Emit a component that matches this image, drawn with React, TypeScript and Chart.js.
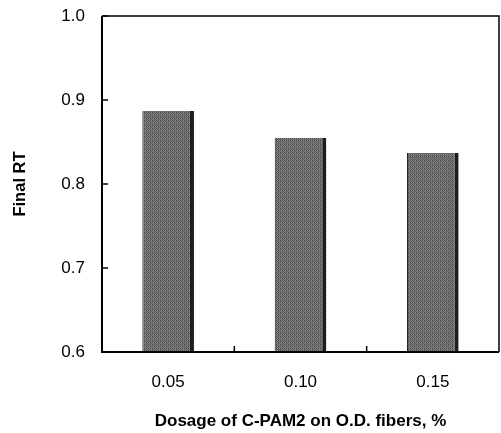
import React, { useEffect, useRef } from "react";
import { Chart, registerables } from "chart.js";

Chart.register(...registerables);

const categories = ["0.05", "0.10", "0.15"];
const finalRT = [0.887, 0.855, 0.837];
const yTicks = [0.6, 0.7, 0.8, 0.9, 1.0];

const FONT = "'Liberation Sans', Arial, sans-serif";

function makePattern(): CanvasPattern | string {
  const c = document.createElement("canvas");
  c.width = 8;
  c.height = 8;
  const g = c.getContext("2d");
  if (!g) return "#8c8c8c";
  const bayer = [
    [0, 32, 8, 40, 2, 34, 10, 42],
    [48, 16, 56, 24, 50, 18, 58, 26],
    [12, 44, 4, 36, 14, 46, 6, 38],
    [60, 28, 52, 20, 62, 30, 54, 22],
    [3, 35, 11, 43, 1, 33, 9, 41],
    [51, 19, 59, 27, 49, 17, 57, 25],
    [15, 47, 7, 39, 13, 45, 5, 37],
    [63, 31, 55, 23, 61, 29, 53, 21],
  ];
  for (let y = 0; y < 8; y++) {
    for (let x = 0; x < 8; x++) {
      const v = bayer[(y * 5 + x) % 8][(x * 3 + y) % 8];
      const shade = Math.round(65 + (v / 63) * 170);
      g.fillStyle = `rgb(${shade},${shade},${shade})`;
      g.fillRect(x, y, 1, 1);
    }
  }
  return g.createPattern(c, "repeat") || "#8c8c8c";
}

const framePlugin = {
  id: "frame",
  afterDatasetsDraw(chart: any) {
    const { ctx, chartArea } = chart;
    const { left, right, top, bottom } = chartArea;
    ctx.save();
    ctx.strokeStyle = "#000";
    ctx.lineWidth = 1.5;
    ctx.beginPath();
    ctx.moveTo(left, top);
    ctx.lineTo(right, top);
    ctx.lineTo(right, bottom);
    ctx.stroke();
    ctx.lineWidth = 2;
    ctx.beginPath();
    ctx.moveTo(left, top);
    ctx.lineTo(left, bottom);
    ctx.lineTo(right, bottom);
    ctx.stroke();
    const ys = chart.scales.y;
    ctx.lineWidth = 1.5;
    yTicks.forEach((v) => {
      const py = ys.getPixelForValue(v);
      ctx.beginPath();
      ctx.moveTo(left, py);
      ctx.lineTo(left + 6, py);
      ctx.stroke();
    });
    const xs = chart.scales.x;
    for (let i = 1; i < categories.length; i++) {
      const px = (xs.getPixelForValue(i - 1) + xs.getPixelForValue(i)) / 2;
      ctx.beginPath();
      ctx.moveTo(px, bottom);
      ctx.lineTo(px, bottom - 6);
      ctx.stroke();
    }
    ctx.restore();
  },
};

export default function App() {
  const ref = useRef<HTMLCanvasElement>(null);
  useEffect(() => {
    document.body.style.margin = "0";
    if (!ref.current) return;
    const chart = new Chart(ref.current, {
      type: "bar",
      data: {
        labels: categories,
        datasets: [
          {
            data: finalRT,
            backgroundColor: makePattern() as any,
            borderColor: "#1e1e1e",
            borderWidth: { left: 1, right: 4, top: 0, bottom: 0 } as any,
            borderSkipped: false,
            categoryPercentage: 1,
            barPercentage: 0.39,
          },
        ],
      },
      options: {
        responsive: false,
        animation: false,
        devicePixelRatio: 1,
        layout: { padding: { top: 16, right: 2, left: 0, bottom: 0 } },
        plugins: {
          legend: { display: false },
          tooltip: { enabled: false },
        },
        scales: {
          x: {
            type: "category",
            grid: { display: false, drawTicks: false },
            border: { display: false },
            ticks: {
              color: "#000",
              padding: 20,
              font: { family: FONT, size: 17 },
            },
            title: {
              display: true,
              text: "Dosage of C-PAM2 on O.D. fibers, %",
              color: "#000",
              font: { family: FONT, size: 17, weight: "bold" },
              padding: { top: 0, bottom: 1 },
            },
            afterFit: (s: any) => {
              s.height = 81;
              s.paddingLeft = 0;
              s.paddingRight = 0;
            },
          },
          y: {
            min: 0.6,
            max: 1.0,
            grid: { display: false, drawTicks: false },
            border: { display: false },
            afterBuildTicks: (s: any) => {
              s.ticks = yTicks.map((v) => ({ value: v }));
            },
            ticks: {
              color: "#000",
              padding: 17,
              font: { family: FONT, size: 17 },
              callback: (v: any) => Number(v).toFixed(1),
            },
            title: {
              display: true,
              text: "Final RT",
              color: "#000",
              font: { family: FONT, size: 16.5, weight: "bold" },
              padding: { top: 11, bottom: 0 },
            },
            afterFit: (s: any) => {
              s.width = 102;
              s.paddingTop = 0;
              s.paddingBottom = 0;
            },
          },
        },
      },
      plugins: [framePlugin],
    });
    return () => chart.destroy();
  }, []);
  return (
    <div style={{ width: 501, height: 433, background: "#fff" }}>
      <canvas ref={ref} width={501} height={433} style={{ display: "block" }} />
    </div>
  );
}
